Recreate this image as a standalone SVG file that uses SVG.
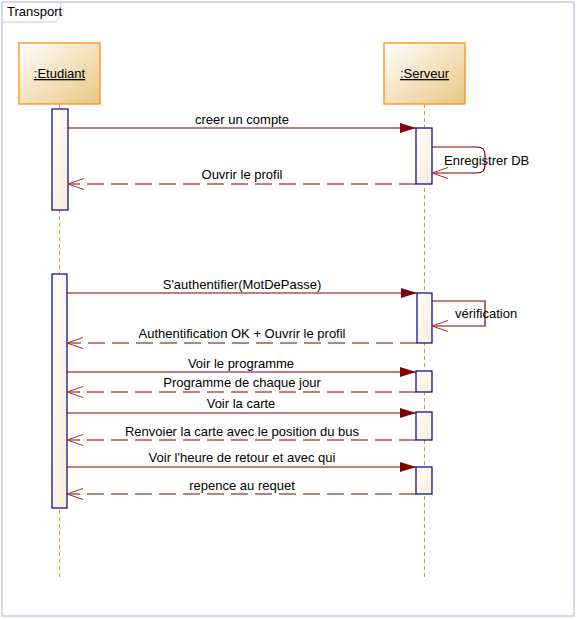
<svg xmlns="http://www.w3.org/2000/svg" width="577" height="619" viewBox="0 0 577 619">
<defs>
<linearGradient id="gBox" x1="0" y1="0" x2="1" y2="1">
<stop offset="0" stop-color="#ffffff"/>
<stop offset="1" stop-color="#e8c681"/>
</linearGradient>
<linearGradient id="gAct" x1="0" y1="0" x2="1" y2="1">
<stop offset="0" stop-color="#ffffff"/>
<stop offset="1" stop-color="#f8ecd4"/>
</linearGradient>
<marker id="mFill" markerUnits="userSpaceOnUse" markerWidth="20" markerHeight="14" refX="0" refY="0" orient="auto" overflow="visible">
<path d="M-16,-5 L0,0 L-16,5 z" fill="#800000" stroke="none"/>
</marker>
<marker id="mOpen" markerUnits="userSpaceOnUse" markerWidth="20" markerHeight="14" refX="0" refY="0" orient="auto" overflow="visible">
<path d="M-16,-5.5 L0,0 L-16,5.5" fill="none" stroke="#9a2f2f" stroke-width="1"/>
</marker>
<style>
.frame{fill:#fff;stroke:#c9c9e1;stroke-width:1.5}
.box{fill:url(#gBox);stroke:#ff8c14;stroke-width:1.3}
.life{stroke:#ff8c14;stroke-width:1;stroke-dasharray:4 3;fill:none}
.act{fill:url(#gAct);stroke:#000080;stroke-width:1.2}
.msg{stroke:#800000;stroke-width:1.2;fill:none}
.call{marker-end:url(#mFill)}
.ret{stroke-dasharray:17 7;marker-end:url(#mOpen)}
.self{marker-end:url(#mOpen)}
text{font-family:"Liberation Sans",Arial,sans-serif;font-size:13px;fill:#000}
.lbl{text-anchor:middle}
.name{text-anchor:middle;text-decoration:underline}
</style>
</defs>
<g id="frame">
<rect class="frame" x="2" y="2" width="572" height="614"/>
<path d="M2,22 L55,22 L61,16 L61,2" fill="none" stroke="#c9c9e1" stroke-width="1"/>
<text x="7" y="16">Transport</text>
</g>
<g id="lifelines">
<line class="life" x1="59.5" y1="104" x2="59.5" y2="580"/>
<line class="life" x1="424.5" y1="104" x2="424.5" y2="580"/>
</g>
<g id="etudiant">
<rect class="box" x="19" y="43" width="81" height="61"/>
<text class="name" x="59.5" y="78">:Etudiant</text>
</g>
<g id="serveur">
<rect class="box" x="384" y="43" width="81" height="61"/>
<text class="name" x="424.5" y="78">:Serveur</text>
</g>
<g id="activations">
<rect class="act" x="52" y="109" width="16" height="101"/>
<rect class="act" x="52" y="274" width="15" height="234"/>
<rect class="act" x="416" y="128" width="16" height="56"/>
<rect class="act" x="417" y="293" width="15" height="50"/>
<rect class="act" x="416" y="371" width="16" height="21"/>
<rect class="act" x="416" y="412" width="16" height="28"/>
<rect class="act" x="416" y="467" width="16" height="27"/>
</g>
<g id="connectors">
<line class="msg call" x1="68" y1="128" x2="416" y2="128"/>
<path class="msg self" d="M432,147 L477,147 Q485,147 485,155 L485,165 Q485,173 477,173 L432,173"/>
<line class="msg ret" x1="416" y1="184" x2="68" y2="184"/>
<line class="msg call" x1="67" y1="293" x2="417" y2="293"/>
<path class="msg self" d="M432,301 L485,301 L485,326 L432,326"/>
<line class="msg ret" x1="417" y1="343" x2="67" y2="343"/>
<line class="msg call" x1="67" y1="372" x2="416" y2="372"/>
<line class="msg ret" x1="416" y1="392" x2="67" y2="392"/>
<line class="msg call" x1="67" y1="413" x2="416" y2="413"/>
<line class="msg ret" x1="416" y1="440" x2="67" y2="440"/>
<line class="msg call" x1="67" y1="467" x2="416" y2="467"/>
<line class="msg ret" x1="416" y1="494" x2="67" y2="494"/>
</g>
<g id="labels">
<text class="lbl" x="242" y="124">creer un compte</text>
<text x="444" y="165">Enregistrer DB</text>
<text class="lbl" x="242" y="179">Ouvrir le profil</text>
<text class="lbl" x="242" y="289">S'authentifier(MotDePasse)</text>
<text x="455" y="318">vérification</text>
<text class="lbl" x="242" y="338">Authentification OK + Ouvrir le profil</text>
<text class="lbl" x="241" y="368">Voir le programme</text>
<text class="lbl" x="242" y="387">Programme de chaque jour</text>
<text class="lbl" x="241" y="408">Voir la carte</text>
<text class="lbl" x="242" y="436">Renvoier la carte avec le position du bus</text>
<text class="lbl" x="242" y="462">Voir l'heure de retour et avec qui</text>
<text class="lbl" x="242" y="490">repence au requet</text>
</g>
</svg>
